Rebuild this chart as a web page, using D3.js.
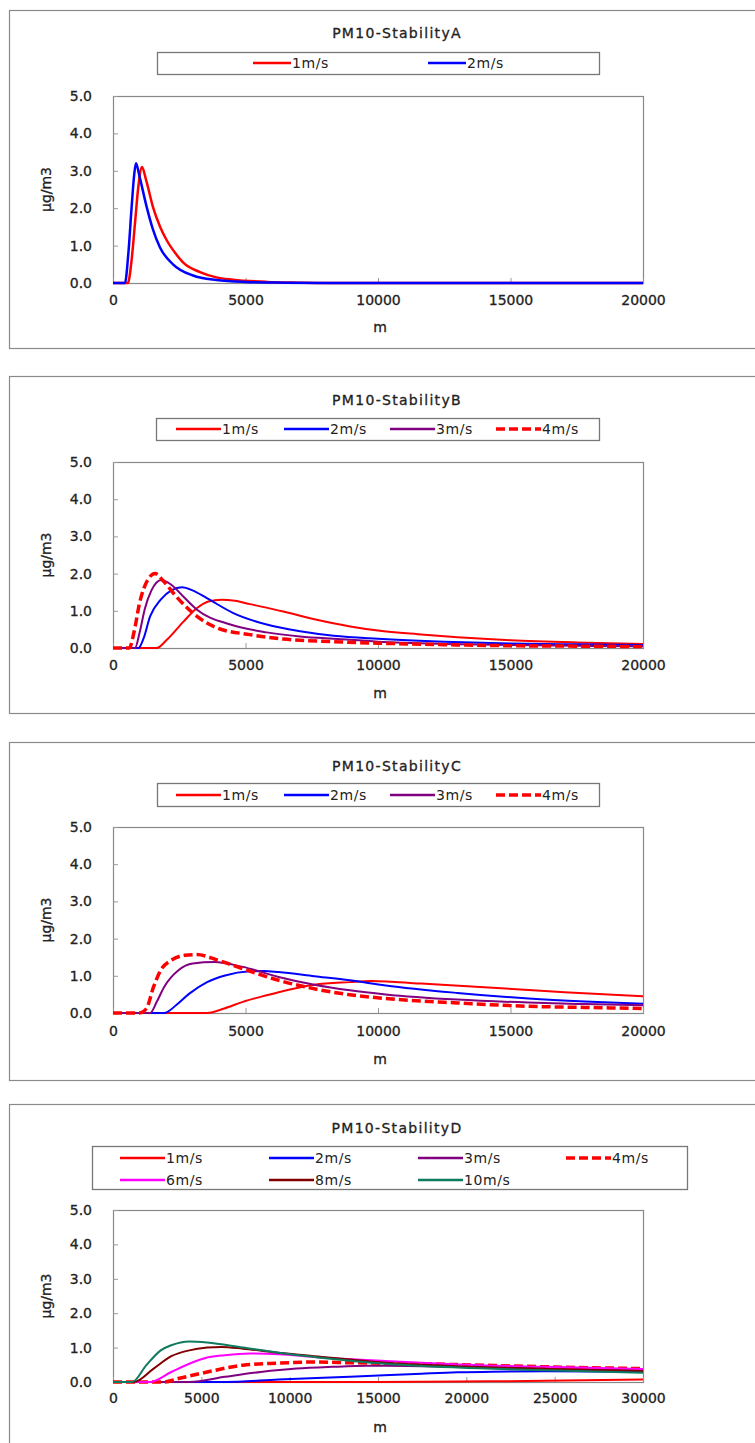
<!DOCTYPE html>
<html>
<head>
<meta charset="utf-8">
<script src="https://cdn.jsdelivr.net/npm/d3@7"></script>
<style>
  html, body { margin: 0; padding: 0; background: #fff; }
  svg { display: block; }
  text { font-family: "DejaVu Sans", "Noto Sans CJK JP", sans-serif; fill: #222; }
</style>
</head>
<body>
<svg id="chart" width="755" height="1443"></svg>
<script>
// ---- Data: concentration (μg/m3) vs downwind distance (m), [distance, value]
const titles = ["PM10-StabilityA", "PM10-StabilityB", "PM10-StabilityC", "PM10-StabilityD"];
const yTicks = [0, 1, 2, 3, 4, 5];
const xTicks20k = [0, 5000, 10000, 15000, 20000];
const xTicks30k = [0, 5000, 10000, 15000, 20000, 25000, 30000];

// Stability A
const A_1ms = [[0,0],[560,0],[700,0.6],[830,1.6],[960,2.6],[1094,3.1],[1250,2.75],[1509,2.03],[1780,1.5],[2038,1.13],[2350,0.8],[2642,0.55],[3283,0.29],[3900,0.15],[4528,0.09],[5811,0.03],[7000,0.01],[8000,0],[20000,0]];
const A_2ms = [[0,0],[450,0],[580,0.8],[700,2.0],[800,2.9],[868,3.2],[1000,2.85],[1272,2.03],[1500,1.45],[1774,0.95],[2264,0.5],[3019,0.2],[3900,0.08],[5000,0.03],[6500,0.01],[8000,0],[20000,0]];

// Stability B
const B_1ms = [[0,0],[1650,0],[2030,0.22],[2660,0.71],[3160,1.07],[3600,1.25],[4100,1.3],[4600,1.27],[5170,1.18],[6430,0.98],[7690,0.76],[8950,0.58],[10000,0.47],[11500,0.37],[13000,0.29],[15000,0.21],[17500,0.15],[20000,0.11]];
const B_2ms = [[0,0],[960,0],[1150,0.25],[1400,0.85],[1800,1.3],[2200,1.55],[2600,1.63],[3000,1.55],[3540,1.34],[4540,0.94],[5800,0.63],[7060,0.45],[8330,0.33],[10000,0.25],[12500,0.17],[15000,0.12],[17500,0.1],[20000,0.08]];
const B_3ms = [[0,0],[830,0],[1000,0.4],[1200,1.05],[1450,1.55],[1830,1.83],[2200,1.7],[2660,1.38],[3170,1.03],[4430,0.63],[5800,0.42],[7060,0.31],[8500,0.24],[10000,0.17],[12500,0.11],[15000,0.08],[17500,0.06],[20000,0.05]];
const B_4ms = [[0,0],[616,0],[800,0.45],[1000,1.2],[1250,1.75],[1585,2.0],[1900,1.8],[2390,1.38],[3170,0.85],[3930,0.54],[5170,0.36],[6430,0.24],[8320,0.17],[10000,0.13],[12500,0.09],[15000,0.06],[17500,0.05],[20000,0.04]];

// Stability C
const C_1ms = [[0,0],[3550,0],[4200,0.12],[4900,0.3],[5600,0.44],[6250,0.56],[7600,0.76],[8940,0.83],[9750,0.86],[10500,0.84],[11630,0.79],[14330,0.68],[17030,0.56],[20000,0.45]];
const C_2ms = [[0,0],[1930,0],[2400,0.22],[2880,0.52],[3550,0.83],[4230,1.01],[5170,1.12],[5700,1.13],[6250,1.1],[7600,0.99],[8940,0.88],[10290,0.74],[12990,0.54],[15680,0.39],[17800,0.31],[20000,0.25]];
const C_3ms = [[0,0],[1400,0],[1650,0.3],[1930,0.7],[2470,1.15],[3010,1.33],[3820,1.37],[4900,1.24],[6250,0.97],[7600,0.76],[8940,0.61],[10290,0.5],[12990,0.36],[15680,0.28],[17800,0.24],[20000,0.21]];
const C_4ms = [[0,0],[1000,0],[1261,0.12],[1530,0.7],[1800,1.15],[2200,1.42],[2700,1.55],[3150,1.57],[3960,1.42],[4900,1.19],[6250,0.88],[7600,0.65],[8940,0.49],[10290,0.39],[12990,0.27],[15680,0.18],[17800,0.15],[20000,0.12]];

// Stability D
const D_1ms = [[0,0],[15000,0],[17500,0.01],[21500,0.02],[25500,0.04],[30000,0.07]];
const D_2ms = [[0,0],[6340,0],[9370,0.07],[13420,0.15],[17460,0.24],[19480,0.28],[21500,0.3],[24530,0.31],[30000,0.3]];
const D_3ms = [[0,0],[4320,0],[6340,0.15],[8360,0.29],[10380,0.39],[12400,0.44],[14420,0.47],[15430,0.47],[19480,0.44],[24530,0.39],[30000,0.34]];
const D_4ms = [[0,0],[2900,0],[3700,0.1],[5330,0.29],[7350,0.49],[9370,0.55],[11390,0.58],[13420,0.56],[17460,0.53],[21500,0.48],[25540,0.43],[30000,0.39]];
const D_6ms = [[0,0],[2090,0],[3300,0.29],[4320,0.53],[5330,0.71],[6340,0.78],[7750,0.83],[9370,0.81],[11390,0.73],[15430,0.61],[19480,0.51],[24530,0.44],[30000,0.38]];
const D_8ms = [[0,0],[1180,0],[2300,0.39],[3300,0.75],[4320,0.92],[5330,1.0],[6140,1.02],[7350,0.97],[9370,0.85],[11390,0.75],[15430,0.56],[19480,0.46],[24530,0.38],[30000,0.32]];
const D_10ms = [[0,0],[1083,0],[1890,0.49],[2700,0.92],[3300,1.07],[4320,1.18],[5330,1.15],[7350,1.0],[9370,0.85],[11390,0.73],[15430,0.53],[19480,0.42],[24530,0.34],[30000,0.27]];

// ---- Series styles
const RED = "#ff0000", BLUE = "#0000ff", PURPLE = "#800080",
      MAGENTA = "#ff00ff", DARKRED = "#800000", GREEN = "#0e7a5e";

const panels = [
  { title: titles[0], xMax: 20000, xTicks: xTicks20k,
    frame: [10, 348], titleY: 33, legendBox: [157, 52, 599, 74], plot: [96, 283], xLabY: 300, mY: 327,
    series: [
      { name: "1m/s", data: A_1ms, color: RED, w: 2.5, lx: 253, ly: 63, ll: 38 },
      { name: "2m/s", data: A_2ms, color: BLUE, w: 2.5, lx: 428, ly: 63, ll: 38 }
    ] },
  { title: titles[1], xMax: 20000, xTicks: xTicks20k,
    frame: [376, 713], titleY: 400, legendBox: [156, 418, 599, 440], plot: [462, 648], xLabY: 665, mY: 693,
    series: [
      { name: "1m/s", data: B_1ms, color: RED, w: 2, lx: 176, ly: 429, ll: 45 },
      { name: "2m/s", data: B_2ms, color: BLUE, w: 2, lx: 284, ly: 429, ll: 45 },
      { name: "3m/s", data: B_3ms, color: PURPLE, w: 2, lx: 390, ly: 429, ll: 45 },
      { name: "4m/s", data: B_4ms, color: RED, w: 3.5, dash: "9,4", lx: 496, ly: 429, ll: 45 }
    ] },
  { title: titles[2], xMax: 20000, xTicks: xTicks20k,
    frame: [742, 1080], titleY: 766, legendBox: [157, 783, 599, 806], plot: [827, 1013], xLabY: 1031, mY: 1059,
    series: [
      { name: "1m/s", data: C_1ms, color: RED, w: 2, lx: 176, ly: 795, ll: 45 },
      { name: "2m/s", data: C_2ms, color: BLUE, w: 2, lx: 284, ly: 795, ll: 45 },
      { name: "3m/s", data: C_3ms, color: PURPLE, w: 2, lx: 390, ly: 795, ll: 45 },
      { name: "4m/s", data: C_4ms, color: RED, w: 3.5, dash: "9,4", lx: 496, ly: 795, ll: 45 }
    ] },
  { title: titles[3], xMax: 30000, xTicks: xTicks30k,
    frame: [1104, 1460], titleY: 1128, legendBox: [92, 1146, 687, 1189], plot: [1210, 1382], xLabY: 1398, mY: 1427,
    series: [
      { name: "1m/s", data: D_1ms, color: RED, w: 2, lx: 120, ly: 1158, ll: 45 },
      { name: "2m/s", data: D_2ms, color: BLUE, w: 2, lx: 269, ly: 1158, ll: 45 },
      { name: "3m/s", data: D_3ms, color: PURPLE, w: 2, lx: 418, ly: 1158, ll: 45 },
      { name: "4m/s", data: D_4ms, color: RED, w: 3.5, dash: "9,4", lx: 566, ly: 1158, ll: 45 },
      { name: "6m/s", data: D_6ms, color: MAGENTA, w: 2, lx: 120, ly: 1180, ll: 45 },
      { name: "8m/s", data: D_8ms, color: DARKRED, w: 2, lx: 269, ly: 1180, ll: 45 },
      { name: "10m/s", data: D_10ms, color: GREEN, w: 2, lx: 418, ly: 1180, ll: 45 }
    ] }
];

const svg = d3.select("#chart");
const plotLeft = 113, plotRight = 643;

// slightly heavy text, like the rasterised spreadsheet font
function heavy(sel) {
  return sel.attr("stroke", "#222").attr("stroke-width", 0.3);
}

panels.forEach(p => {
  const g = svg.append("g");

  // outer chart frame (right side runs past the page edge)
  g.append("rect")
    .attr("x", 9.5).attr("y", p.frame[0] + 0.5)
    .attr("width", 800).attr("height", p.frame[1] - p.frame[0])
    .attr("fill", "#fff").attr("stroke", "#8a8a8a").attr("stroke-width", 1.2);

  // title
  heavy(g.append("text")
    .attr("x", 397).attr("y", p.titleY)
    .attr("text-anchor", "middle").attr("dominant-baseline", "central")
    .attr("font-size", 14).attr("letter-spacing", 1.3)
    .text(p.title));

  // legend
  const lb = p.legendBox;
  g.append("rect")
    .attr("x", lb[0] + 0.5).attr("y", lb[1] + 0.5)
    .attr("width", lb[2] - lb[0]).attr("height", lb[3] - lb[1])
    .attr("fill", "#fff").attr("stroke", "#777").attr("stroke-width", 1.3);
  p.series.forEach(s => {
    g.append("line")
      .attr("x1", s.lx).attr("x2", s.lx + s.ll)
      .attr("y1", s.ly).attr("y2", s.ly)
      .attr("stroke", s.color).attr("stroke-width", s.dash ? 3.5 : 2.5)
      .attr("stroke-dasharray", s.dash || null);
    g.append("text")
      .attr("x", s.lx + s.ll + 1).attr("y", s.ly)
      .attr("dominant-baseline", "central")
      .attr("font-size", 14).attr("letter-spacing", 0.6).attr("fill", "#555")
      .text(s.name);
  });

  // scales
  const x = d3.scaleLinear().domain([0, p.xMax]).range([plotLeft, plotRight]);
  const y = d3.scaleLinear().domain([0, 5]).range([p.plot[1], p.plot[0]]);

  // plot area box
  g.append("rect")
    .attr("x", plotLeft + 0.5).attr("y", p.plot[0] + 0.5)
    .attr("width", plotRight - plotLeft).attr("height", p.plot[1] - p.plot[0])
    .attr("fill", "#fff").attr("stroke", "#888").attr("stroke-width", 1.2);

  // y axis: inward ticks, labels on the left
  const yAxis = g.append("g")
    .attr("transform", `translate(${plotLeft},0)`)
    .call(d3.axisLeft(y).tickValues(yTicks).tickSize(-5).tickPadding(21)
      .tickFormat(d3.format(".1f")));
  yAxis.select(".domain").remove();
  yAxis.selectAll(".tick line").attr("stroke", "#999");
  heavy(yAxis.selectAll(".tick text")
    .attr("font-size", 14).attr("fill", "#222")
    .attr("font-family", "\"DejaVu Sans\", sans-serif"));

  // x axis: inward ticks, labels below
  const xAxis = g.append("g")
    .attr("transform", `translate(0,${p.plot[1]})`)
    .call(d3.axisBottom(x).tickValues(p.xTicks).tickSize(-5).tickPadding(0)
      .tickFormat(d3.format("d")));
  xAxis.select(".domain").remove();
  xAxis.selectAll(".tick line").attr("stroke", "#999");
  heavy(xAxis.selectAll(".tick text")
    .attr("y", p.xLabY - p.plot[1]).attr("dy", null)
    .attr("dominant-baseline", "central")
    .attr("font-size", 14).attr("fill", "#222")
    .attr("font-family", "\"DejaVu Sans\", sans-serif"));

  // axis titles
  heavy(g.append("text")
    .attr("transform", `translate(46,${(p.plot[0] + p.plot[1]) / 2}) rotate(-90)`)
    .attr("text-anchor", "middle").attr("dominant-baseline", "central")
    .attr("font-size", 14)
    .text("μg/m3"));
  heavy(g.append("text")
    .attr("x", 380).attr("y", p.mY)
    .attr("text-anchor", "middle").attr("dominant-baseline", "central")
    .attr("font-size", 14)
    .text("m"));

  // series lines
  const line = d3.line()
    .x(d => x(d[0])).y(d => y(d[1]))
    .curve(d3.curveMonotoneX);
  const clipId = "clip-" + p.title;
  g.append("clipPath").attr("id", clipId)
    .append("rect").attr("x", plotLeft).attr("y", p.plot[0] - 2)
    .attr("width", plotRight - plotLeft + 2).attr("height", p.plot[1] - p.plot[0] + 4);
  g.append("g").attr("clip-path", `url(#${clipId})`)
    .selectAll("path").data(p.series).join("path")
    .attr("d", s => line(s.data))
    .attr("fill", "none")
    .attr("stroke", s => s.color)
    .attr("stroke-width", s => s.w)
    .attr("stroke-dasharray", s => s.dash || null)
    .attr("stroke-linejoin", "round");
});
</script>
</body>
</html>
